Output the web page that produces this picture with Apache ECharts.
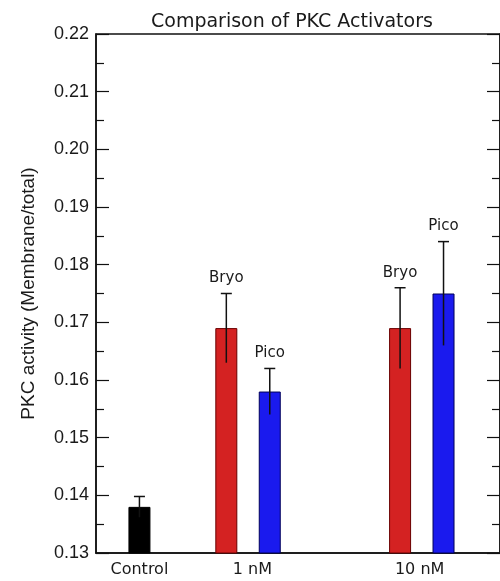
<!DOCTYPE html>
<html>
<head>
<meta charset="utf-8">
<script src="https://cdn.jsdelivr.net/npm/echarts@6/dist/echarts.min.js"></script>
<style>html,body{margin:0;padding:0;background:#fff;}#c{width:500px;height:581px;}</style>
</head>
<body>
<div id="c"></div>
<script>
// ---- data ----
const categories = ['Control', '1 nM', '10 nM'];
const categoryPos = [0, 2.6, 6.45];
const barPos = [0, 2, 3, 6, 7];
const barValues = [0.138, 0.169, 0.158, 0.169, 0.175];
const barErrors = [0.0018, 0.006, 0.004, 0.007, 0.009];
const barLabels = ['', 'Bryo', 'Pico', 'Bryo', 'Pico'];
const barKinds = ['control', 'bryo', 'pico', 'bryo', 'pico'];
const yMin = 0.13, yMax = 0.22, yStep = 0.01;

// ---- styles ----
const fill = { control: '#000000', bryo: '#d42222', pico: '#1a1aee' };
const edge = { control: '#000000', bryo: '#6a0000', pico: '#00005a' };

const chart = echarts.init(document.getElementById('c'), null, { renderer: 'canvas' });

const barData = barPos.map((x, i) => ({
  value: [x, barValues[i]],
  itemStyle: { color: fill[barKinds[i]], borderColor: edge[barKinds[i]], borderWidth: 1 }
}));
const errData = barPos.map((x, i) => [x, barValues[i], barErrors[i], i]);

const yAxisCommon = {
  type: 'value', min: yMin, max: yMax, interval: yStep,
  axisLine: { show: true, onZero: false, lineStyle: { color: '#111', width: 1.5 } },
  axisTick: { show: true, inside: true, length: 13, lineStyle: { color: '#111', width: 1.2 } },
  minorTick: { show: true, splitNumber: 2, length: 8, lineStyle: { color: '#111', width: 1.2 } },
  splitLine: { show: false }
};

chart.setOption({
  animation: false,
  title: {
    text: 'Comparison of PKC Activators',
    left: 146, top: 8,
    textStyle: { fontFamily: 'DejaVu Sans', fontSize: 19, fontWeight: 'normal', color: '#1a1a1a' }
  },
  grid: { left: 96, right: 0, top: 34, bottom: 28, show: true, borderColor: '#111', borderWidth: 1.5 },
  xAxis: {
    type: 'value', min: -1, max: 8.3,
    axisLine: { show: true, onZero: false, lineStyle: { color: '#111', width: 1.5 } },
    axisTick: { show: false },
    splitLine: { show: false },
    axisLabel: {
      customValues: categoryPos,
      formatter: v => { const i = categoryPos.indexOf(v); return i >= 0 ? categories[i] : ''; },
      fontFamily: 'DejaVu Sans', fontSize: 16, color: '#1a1a1a', margin: 9
    }
  },
  yAxis: [
    Object.assign({}, yAxisCommon, {
      position: 'left',
      name: 'PKC activity (Membrane/total)',
      nameLocation: 'middle', nameGap: 58,
      nameTextStyle: { fontFamily: 'Liberation Sans', fontSize: 19, color: '#1a1a1a' },
      axisLabel: { formatter: v => v.toFixed(2), fontFamily: 'Liberation Sans', fontSize: 18, color: '#1a1a1a', margin: 7 }
    }),
    Object.assign({}, yAxisCommon, { position: 'right', axisLabel: { show: false } })
  ],
  series: [
    {
      type: 'bar', barWidth: 22, data: barData, yAxisIndex: 0
    },
    {
      type: 'custom', yAxisIndex: 0, data: errData, z: 10,
      renderItem: (params, api) => {
        const x = api.value(0), y = api.value(1), e = api.value(2), i = api.value(3);
        const top = api.coord([x, y + e]);
        const bot = api.coord([x, y - e]);
        const cap = 5.5;
        const children = [
          { type: 'line', shape: { x1: top[0], y1: top[1], x2: bot[0], y2: bot[1] }, style: { stroke: '#111', lineWidth: 1.5 } },
          { type: 'line', shape: { x1: top[0] - cap, y1: top[1], x2: top[0] + cap, y2: top[1] }, style: { stroke: '#111', lineWidth: 1.5 } }
        ];
        if (barLabels[i]) {
          children.push({ type: 'text', x: top[0], y: top[1] - 15,
            style: { text: barLabels[i], fontFamily: 'DejaVu Sans', fontSize: 15, fill: '#1a1a1a', align: 'center', verticalAlign: 'middle' } });
        }
        return { type: 'group', children };
      }
    }
  ]
});
</script>
</body>
</html>
